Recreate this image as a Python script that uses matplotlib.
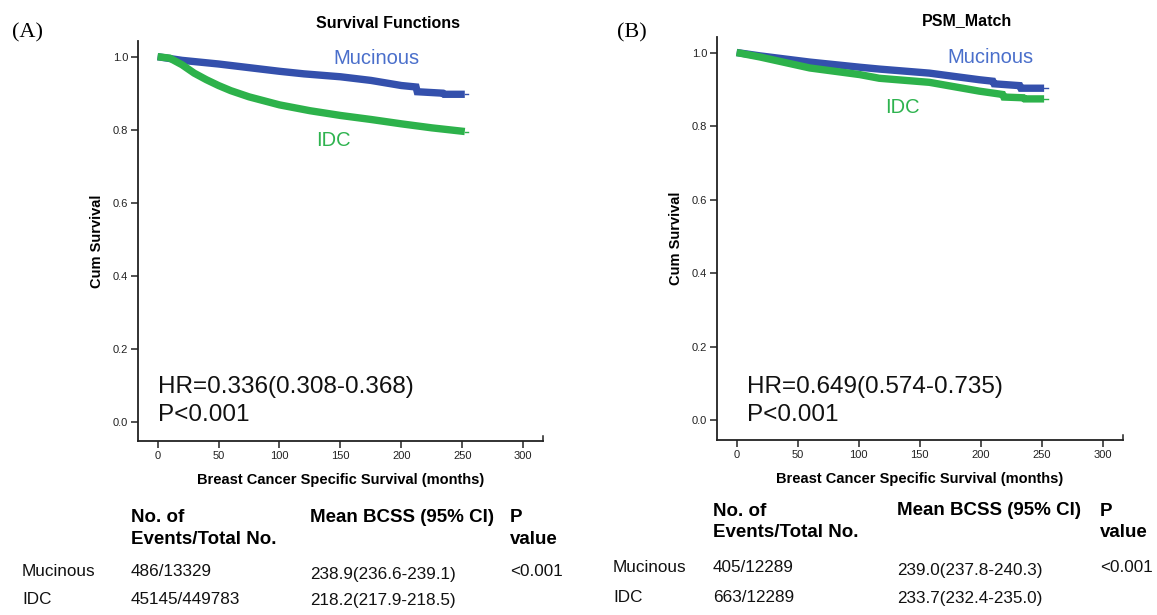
import matplotlib
matplotlib.use("Agg")
import matplotlib.pyplot as plt

plt.rcParams['font.family'] = ['Liberation Sans', 'DejaVu Sans']

W, H = 1157, 615

# panel A: all cases
months_a_muc = [0, 20, 50, 100, 120, 150, 175, 200, 212, 213, 234, 235, 252]
surv_a_muc = [1.0, 0.990, 0.980, 0.960, 0.953, 0.945, 0.935, 0.921, 0.917, 0.904, 0.900, 0.897, 0.897]
months_a_idc = [0, 10, 20, 30, 40, 50, 60, 75, 100, 125, 150, 175, 200, 225, 252]
surv_a_idc = [1.0, 0.996, 0.978, 0.955, 0.937, 0.921, 0.907, 0.890, 0.868, 0.852, 0.839, 0.828, 0.816, 0.805, 0.795]

# panel B: PSM matched
months_b_muc = [0, 19, 60, 101, 117, 158, 199, 210, 211, 232, 233, 252]
surv_b_muc = [1.0, 0.991, 0.974, 0.960, 0.955, 0.944, 0.926, 0.922, 0.915, 0.910, 0.903, 0.903]
months_b_idc = [0, 19, 60, 101, 117, 158, 199, 218, 219, 235, 236, 252]
surv_b_idc = [1.0, 0.988, 0.958, 0.940, 0.930, 0.919, 0.895, 0.886, 0.879, 0.877, 0.874, 0.874]

titles = ["Survival Functions", "PSM_Match"]
hr_texts = ["HR=0.336(0.308-0.368)", "HR=0.649(0.574-0.735)"]
p_texts = ["P<0.001", "P<0.001"]
table_header = ["No. of\nEvents/Total No.", "Mean BCSS (95% CI)", "P\nvalue"]
groups = ["Mucinous", "IDC"]
events_a = ["486/13329", "45145/449783"]
bcss_a = ["238.9(236.6-239.1)", "218.2(217.9-218.5)"]
events_b = ["405/12289", "663/12289"]
bcss_b = ["239.0(237.8-240.3)", "233.7(232.4-235.0)"]
p_value = "<0.001"

BLUE = '#3450AC'
BLUE_TXT = '#4A6FCB'
GREEN = '#2DB24B'
GREEN_TXT = '#2EB34F'


def fx(x):
    return x / W


def fy(y):
    return 1 - y / H


fig = plt.figure(figsize=(W / 100, H / 100), dpi=100)


def make_axes(left, right, top, bottom):
    return fig.add_axes([fx(left), fy(bottom), (right - left) / W, (bottom - top) / H])


def style_axes(ax):
    ax.set_xlim(-16.3, 316.4)
    ax.set_ylim(-0.053, 1.043)
    for s in ['top', 'right']:
        ax.spines[s].set_visible(False)
    for s in ['left', 'bottom']:
        ax.spines[s].set_linewidth(1.3)
        ax.spines[s].set_color('#222222')
    ax.set_xticks(range(0, 301, 50))
    ax.set_yticks([0.0, 0.2, 0.4, 0.6, 0.8, 1.0])
    ax.set_yticklabels([f"{v:.1f}" for v in [0.0, 0.2, 0.4, 0.6, 0.8, 1.0]])
    ax.tick_params(direction='out', length=5, width=1.1, labelsize=8,
                   colors='#222222', pad=2)
    # small end mark on the x axis
    ax.plot([1, 1], [0, 0.012], transform=ax.transAxes, color='#222222',
            lw=1.1, clip_on=False)
    ax.set_ylabel("Cum Survival", fontsize=10.5, fontweight='bold', labelpad=6)
    ax.set_xlabel("Breast Cancer Specific Survival (months)", fontsize=10.5,
                  fontweight='bold', labelpad=9)


ax_a = make_axes(137.7, 543.3, 41, 441)
ax_b = make_axes(716.7, 1122.7, 36.7, 440)

for ax, mm, sm, mi, si in [(ax_a, months_a_muc, surv_a_muc, months_a_idc, surv_a_idc),
                           (ax_b, months_b_muc, surv_b_muc, months_b_idc, surv_b_idc)]:
    style_axes(ax)
    ax.plot(mm, sm, color=BLUE, lw=5.3, solid_capstyle='butt', solid_joinstyle='miter')
    ax.plot([mm[-1], mm[-1] + 3], [sm[-1], sm[-1]], color=BLUE, lw=1)
    ax.plot(mi, si, color=GREEN, lw=5.3, solid_capstyle='butt', solid_joinstyle='miter')
    ax.plot([mi[-1], mi[-1] + 3], [si[-1], si[-1]], color=GREEN, lw=1)

# curve labels
fig.text(fx(333), fy(58.3), "Mucinous", color=BLUE_TXT, fontsize=14.5, va='center', ha='left')
fig.text(fx(316), fy(141), "IDC", color=GREEN_TXT, fontsize=14.5, va='center', ha='left')
fig.text(fx(947.7), fy(57.3), "Mucinous", color=BLUE_TXT, fontsize=14.5, va='center', ha='left')
fig.text(fx(885), fy(107.3), "IDC", color=GREEN_TXT, fontsize=14.5, va='center', ha='left')

# HR annotations
for x0, hr, p in [(158.3, hr_texts[0], p_texts[0]), (747.3, hr_texts[1], p_texts[1])]:
    fig.text(fx(x0), fy(386.7), hr, fontsize=17.5, va='center', ha='left', color='#111111')
    fig.text(fx(x0), fy(415), p, fontsize=17.5, va='center', ha='left', color='#111111')

# titles and panel letters
fig.text(fx(388), fy(23), titles[0], fontsize=11.5, fontweight='bold', ha='center', va='center')
fig.text(fx(967), fy(21), titles[1], fontsize=11.5, fontweight='bold', ha='center', va='center')
fig.text(fx(12), fy(33), "(A)", fontsize=16, family='Liberation Serif', ha='left', va='center')
fig.text(fx(617), fy(33), "(B)", fontsize=16, family='Liberation Serif', ha='left', va='center')


# tables below the plots
def draw_table(x_grp, x_ev, x_bcss, x_p, y_head, y_rows, events, bcss):
    fig.text(fx(x_ev), fy(y_head), table_header[0], fontsize=13.5, fontweight='bold',
             ha='left', va='center', linespacing=1.32)
    fig.text(fx(x_bcss), fy(y_head - 11.5), table_header[1], fontsize=13.5, fontweight='bold',
             ha='left', va='center')
    fig.text(fx(x_p), fy(y_head), table_header[2], fontsize=13.5, fontweight='bold',
             ha='left', va='center', linespacing=1.32)
    for i, g in enumerate(groups):
        fig.text(fx(x_grp), fy(y_rows[i]), g, fontsize=12.3, ha='left', va='center', color='#111111')
        fig.text(fx(x_ev), fy(y_rows[i]), events[i], fontsize=12.3, ha='left', va='center', color='#111111')
        fig.text(fx(x_bcss), fy(y_rows[i] + (3 if i == 0 else 0)), bcss[i], fontsize=12.3,
                 ha='left', va='center', color='#111111')
    fig.text(fx(x_p), fy(y_rows[0]), p_value, fontsize=12.3, ha='left', va='center', color='#111111')


draw_table(22, 131, 310, 510, 528.5, [572, 600], events_a, bcss_a)
draw_table(613, 713, 897, 1100, 522, [567, 598], events_b, bcss_b)

fig.savefig("out.png", dpi=100)
